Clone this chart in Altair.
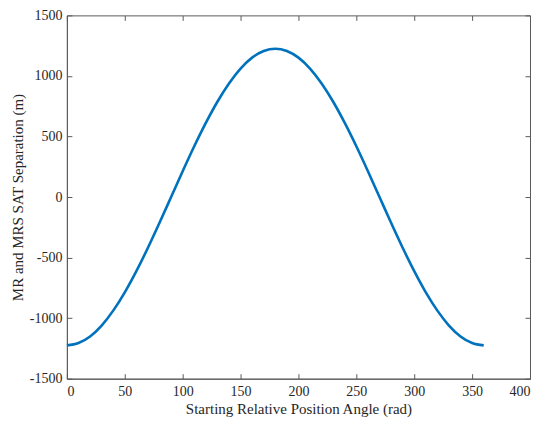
import altair as alt
import pandas as pd

angles = [0, 10, 20, 30, 40, 50, 60, 70, 80, 90, 100, 110, 120, 130, 140, 150, 160, 170, 180,
          190, 200, 210, 220, 230, 240, 250, 260, 270, 280, 290, 300, 310, 320, 330, 340, 350, 360]
separation = [-1225, -1206, -1151, -1061, -938, -787, -612, -419, -213, 0, 213, 419, 612, 787, 938,
              1061, 1151, 1206, 1225, 1206, 1151, 1061, 938, 787, 612, 419, 213, 0, -213, -419,
              -612, -787, -938, -1061, -1151, -1206, -1225]
x_ticks = [0, 50, 100, 150, 200, 250, 300, 350, 400]
y_ticks = [-1500, -1000, -500, 0, 500, 1000, 1500]

df = pd.DataFrame({"angle": angles, "sep": separation})

W, H = 464, 364
FONT = "Liberation Serif"
TXT = "#262626"
DOM = "#5a5a5a"

xs = alt.Scale(domain=[0, 400], nice=False)
ys = alt.Scale(domain=[-1500, 1500], nice=False)

main = alt.Chart(df).mark_line(color="#0072BD", strokeWidth=2.6, interpolate="monotone").encode(
    x=alt.X("angle:Q", scale=xs, title="Starting Relative Position Angle (rad)",
            axis=alt.Axis(values=x_ticks, ticks=False, grid=False, domainColor=DOM,
                          labelExpr="'' + datum.value",
                          labelFont=FONT, labelFontSize=14, labelColor=TXT, labelPadding=6,
                          titleFont=FONT, titleFontSize=15, titleColor=TXT, titleFontWeight="normal",
                          titlePadding=3)),
    y=alt.Y("sep:Q", scale=ys, title="MR and MRS SAT Separation (m)",
            axis=alt.Axis(values=y_ticks, ticks=False, grid=False, domainColor=DOM,
                          labelExpr="'' + datum.value",
                          labelFont=FONT, labelFontSize=14, labelColor=TXT, labelPadding=5,
                          titleFont=FONT, titleFontSize=15, titleColor=TXT, titleFontWeight="normal",
                          titlePadding=4)),
)

tick_common = dict(labels=False, domain=False, grid=False, tickColor=DOM, tickSize=5, title=None)

inner1 = alt.Chart(df).mark_line(opacity=0).encode(
    x=alt.X("angle:Q", scale=xs, axis=alt.Axis(orient="top", offset=-H, values=x_ticks, **tick_common)),
    y=alt.Y("sep:Q", scale=ys, axis=alt.Axis(orient="right", offset=-W, values=y_ticks, **tick_common)),
)
inner2 = alt.Chart(df).mark_line(opacity=0).encode(
    x=alt.X("angle:Q", scale=xs, axis=alt.Axis(orient="bottom", offset=-H, values=x_ticks, **tick_common)),
    y=alt.Y("sep:Q", scale=ys, axis=alt.Axis(orient="left", offset=-W, values=y_ticks, **tick_common)),
)

chart = alt.layer(main, inner1, inner2).resolve_scale(x="independent", y="independent").resolve_axis(
    x="independent", y="independent"
).properties(
    width=W, height=H,
    autosize=alt.AutoSizeParams(type="none"),
    padding={"left": 59, "top": 7, "right": 4, "bottom": 40},
    background="white",
).configure_view(stroke=DOM, strokeWidth=1)

chart.save("out.html", embed_options={"renderer": "svg", "actions": False})
